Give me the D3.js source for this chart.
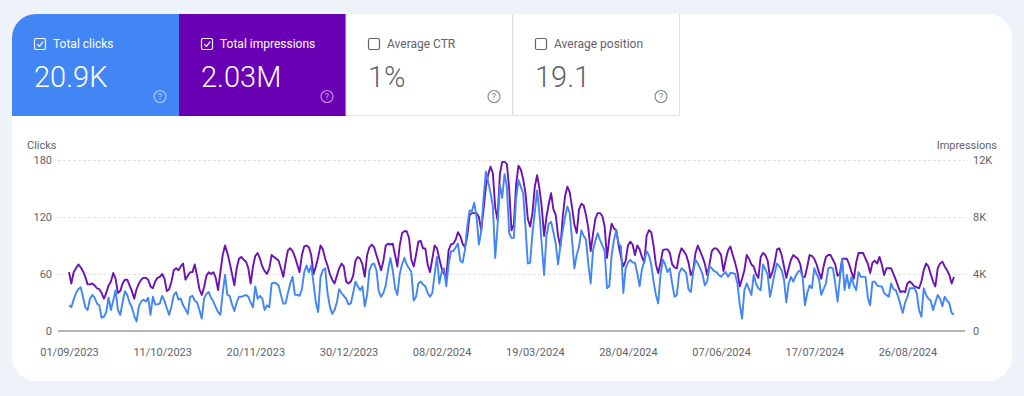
<!DOCTYPE html>
<html>
<head>
<meta charset="utf-8">
<script src="https://d3js.org/d3.v7.min.js"></script>
<style>
  html, body { margin: 0; padding: 0; background: #eef2f9; }
  svg { display: block; font-family: Roboto, "Noto Sans", sans-serif; }
</style>
</head>
<body>
<svg id="chart" width="1024" height="396"></svg>
<script>
// ---- data (one value per day, starting at startDate) ----
const startDate = "01/09/2023";

const clicks = [
  27,25,33,40,44,46,36, 25,22,34,38,35,29,27, 14,15,20,35,22,32,43, 22,17,30,42,38,30,25,
  16,10,26,31,33,31,35, 17,36,28,28,29,37,32, 24,17,26,38,41,33,34, 27,23,18,36,37,32,30,
  22,13,34,39,41,35,31, 25,20,17,40,59,38,37, 28,21,30,36,36,37,38, 36,30,25,47,34,37,34,
  22,27,25,50,51,50,48, 38,29,29,40,50,57,38, 38,37,44,62,69,62,69, 50,30,20,57,64,66,40,
  26,18,22,30,44,40,37, 34,28,29,40,52,47,43, 47,26,38,64,70,71,64, 42,36,40,48,64,77,64,
  45,38,60,70,77,70,66, 62,32,36,50,52,49,47, 40,36,40,60,78,50,62, 66,47,70,84,84,88,92,
  74,72,85,110,127,126,135, 120,91,105,140,168,157,145, 131,77,110,154,140,165,152,
  103,98,98,140,159,152,145, 110,71,72,103,125,148,124, 90,59,100,113,115,104,92,
  70,90,106,120,131,124,96, 66,80,89,106,100,96,70, 50,85,95,103,96,90,84,
  45,47,80,96,106,92,89, 40,66,72,75,72,72,61, 47,65,73,84,80,70,52, 38,29,60,75,70,62,66,
  50,36,38,61,66,64,61, 44,41,62,75,71,66,60, 48,52,68,66,63,62,59, 57,60,62,57,61,61,60,
  50,28,13,43,50,44,38, 59,50,45,43,70,65,59, 36,48,61,71,68,64,54, 30,50,57,52,58,62,64,
  57,27,40,48,45,66,60, 55,38,44,50,66,67,66, 50,31,55,76,43,59,45, 57,48,43,62,57,57,57,
  35,27,52,52,48,47,47, 40,38,36,50,44,43,36, 28,19,30,36,45,45,45, 40,22,15,45,38,34,32,
  22,30,38,34,26,36,32, 29,19,17
];

const impressions = [
  4130,3330,4130,4400,4670,4470,4200, 3800,3270,3270,3330,3200,3000,2930,
  2670,2270,2670,3200,3470,4070,3670, 2670,2800,3330,3600,3600,3200,2800,
  2270,2930,3330,3600,3730,3730,3600, 3130,3000,3470,3730,3800,4000,3670,
  2800,2930,3470,4270,4400,4270,4530, 4730,3600,3870,4130,4130,4670,3870,
  2930,2530,3070,3870,4130,4000,4130, 3730,2870,4130,5330,6000,5470,4800,
  4000,3200,4400,5070,5200,5000,4870, 4400,3330,4530,5270,5470,5070,4530,
  4200,4000,4400,5330,5200,5070,4930, 4400,3800,4800,5670,5800,5600,5200,
  4670,4130,5330,5930,6000,5870,5330, 4000,4530,5200,6000,5730,5070,4600,
  4000,3600,3330,3870,4400,4730,4530, 3470,3330,3470,3870,4930,5200,5070,
  4670,3800,5330,5870,6070,5870,5330, 4800,4270,4930,6000,6130,6070,6130,
  5330,4530,6000,6870,7000,7000,6530, 5000,4530,5330,6270,6330,5800,5800,
  4670,4130,5070,6000,5800,5070,4400, 4000,3800,5670,6070,6130,6400,6930,
  6670,6130,5870,6670,8130,8270,8270, 8270,8000,7070,8530,10130,11000,11530,
  11070,8670,7800,11000,11870,11870,11730, 10000,7070,7470,10330,11600,11330,10670,
  9670,7870,7330,8270,10130,10930,10000, 8670,6670,8000,8930,9670,8530,8130,
  6670,5930,8000,9470,10130,9730,8670, 7470,6870,8530,8930,8800,8130,7200,
  5600,6800,7870,8270,8270,8070,7330, 5130,6530,7530,7200,7070,6000,5200,
  4530,4930,6000,6270,6070,5330,6000, 5730,5200,4800,6670,7070,6930,6000,
  4670,4070,4800,5670,5730,5730,5470, 4670,4470,4400,5330,5800,5600,5330,
  4800,3930,4270,5470,6000,5600,5200, 4730,3930,4670,5600,5800,5800,5600,
  5330,4200,5000,5670,5930,5330,4800, 4130,3130,3670,4270,5330,5070,4670,
  4530,4000,3730,5200,5470,5330,4930, 3730,4130,4800,5730,5800,5330,4530,
  3730,4400,5000,5330,5200,5070,4670, 3800,3800,4530,5330,5270,5070,4670,
  4130,3670,4530,5200,5330,5330,5000, 4670,3870,4000,5070,5070,5070,4670,
  4130,3670,4800,5470,5470,5470,5070, 4730,4070,4800,4930,4730,5200,4670,
  3930,4400,4400,4400,4000,3600,3130, 2730,2800,2730,3330,3470,3330,3130,
  3070,3000,3470,4270,4730,4530,4000, 3470,3130,4400,4730,4870,4530,4270,
  3930,3330,3800
];

const dateTicks = ["01/09/2023","11/10/2023","20/11/2023","30/12/2023","08/02/2024",
                   "19/03/2024","28/04/2024","07/06/2024","17/07/2024","26/08/2024"];
const clickTicks = [0, 60, 120, 180];
const impressionTicks = [0, 4000, 8000, 12000];

const tileLabels = ["Total clicks", "Total impressions", "Average CTR", "Average position"];
const tileValues = ["20.9K", "2.03M", "1%", "19.1"];
const tileChecked = [true, true, false, false];

// ---- layout ----
const BLUE = "#4285f4";
const PURPLE_TILE = "#6a00b4";
const PURPLE_LINE = "#6c12b5";
const GREY = "#5f6368";

const svg = d3.select("#chart");
const parse = d3.utcParse("%d/%m/%Y");
const fmt = d3.utcFormat("%d/%m/%Y");

svg.append("rect").attr("width", 1024).attr("height", 396).attr("fill", "#eef2f9");

// card
svg.append("defs").append("clipPath").attr("id", "card-clip")
  .append("rect").attr("x", 12).attr("y", 14).attr("width", 1000).attr("height", 367).attr("rx", 24);
svg.append("rect")
  .attr("x", 12).attr("y", 14).attr("width", 1000).attr("height", 367).attr("rx", 24)
  .attr("fill", "#fff");

// metric tiles
const tileW = 167, tileH = 102;
const tiles = svg.append("g").attr("clip-path", "url(#card-clip)")
  .selectAll("g").data(tileLabels).join("g")
  .attr("transform", (d, i) => `translate(${12 + i * tileW},14)`);

tiles.append("rect")
  .attr("width", tileW).attr("height", tileH)
  .attr("fill", (d, i) => i === 0 ? BLUE : i === 1 ? PURPLE_TILE : "#fff");

// borders for the white tiles
tiles.filter((d, i) => i > 1).append("path")
  .attr("d", `M0,0V${tileH - 0.5}H${tileW - 0.5}V0`)
  .attr("fill", "none").attr("stroke", "#e0e0e0");

tiles.each(function(d, i) {
  const g = d3.select(this);
  const fg = i < 2 ? "#fff" : GREY;
  // checkbox
  g.append("rect")
    .attr("x", 22.5).attr("y", 24.5).attr("width", 11).attr("height", 11).attr("rx", 1.5)
    .attr("fill", "none").attr("stroke", fg).attr("stroke-width", 1.2);
  if (tileChecked[i]) {
    g.append("path")
      .attr("d", "M25.2,30.2 L27.4,32.4 L31.2,27.6")
      .attr("fill", "none").attr("stroke", fg).attr("stroke-width", 1.2);
  }
  g.append("text")
    .attr("x", 41).attr("y", 34)
    .attr("font-size", 12).attr("fill", fg)
    .text(tileLabels[i]);
  g.append("text")
    .attr("x", 22).attr("y", 72.5)
    .attr("font-size", 29).attr("font-weight", 300).attr("fill", fg)
    .text(tileValues[i]);
  // help icon
  const hc = i < 2 ? "rgba(255,255,255,0.6)" : "#80868b";
  g.append("circle")
    .attr("cx", tileW - 19).attr("cy", 82.5).attr("r", 6)
    .attr("fill", "none").attr("stroke", hc).attr("stroke-width", 1.1);
  g.append("text")
    .attr("x", tileW - 19).attr("y", 85.7)
    .attr("text-anchor", "middle").attr("font-size", 9).attr("fill", hc)
    .text("?");
});

// ---- chart ----
const start = parse(startDate);
const dates = clicks.map((d, i) => d3.utcDay.offset(start, i));

const plotLeft = 58, plotRight = 965, plotTop = 160, plotBottom = 331;

const x = d3.scaleUtc()
  .domain([start, dates[dates.length - 1]])
  .range([69, 954]);
const yClicks = d3.scaleLinear().domain([0, 180]).range([plotBottom, plotTop]);
const yImpr = d3.scaleLinear().domain([0, 12000]).range([plotBottom, plotTop]);

// gridlines
svg.append("g")
  .attr("transform", `translate(${plotLeft},0)`)
  .call(d3.axisRight(yClicks).tickValues(clickTicks.slice(1)).tickSize(plotRight - plotLeft).tickFormat(""))
  .call(g => g.select(".domain").remove())
  .call(g => g.selectAll("line").attr("stroke", "#e2e2e2").attr("stroke-dasharray", "3,2"));

svg.append("line")
  .attr("x1", plotLeft).attr("x2", plotRight)
  .attr("y1", plotBottom).attr("y2", plotBottom)
  .attr("stroke", "#9e9e9e").attr("stroke-width", 1.5);

// left axis
svg.append("g")
  .attr("transform", `translate(${plotLeft},0)`)
  .call(d3.axisLeft(yClicks).tickValues(clickTicks).tickSize(0).tickPadding(6))
  .call(g => g.select(".domain").remove())
  .call(g => g.selectAll("text").attr("font-size", 11).attr("fill", GREY).attr("font-family", "Roboto"));

// right axis
svg.append("g")
  .attr("transform", `translate(${plotRight},0)`)
  .call(d3.axisRight(yImpr).tickValues(impressionTicks).tickSize(0).tickPadding(8)
    .tickFormat(d => d === 0 ? "0" : d / 1000 + "K"))
  .call(g => g.select(".domain").remove())
  .call(g => g.selectAll("text").attr("font-size", 11).attr("fill", GREY).attr("font-family", "Roboto"));

// bottom axis
svg.append("g")
  .attr("transform", `translate(0,${plotBottom})`)
  .call(d3.axisBottom(x).tickValues(dateTicks.map(parse)).tickSize(0).tickPadding(17).tickFormat(fmt))
  .call(g => g.select(".domain").remove())
  .call(g => g.selectAll("text").attr("font-size", 11).attr("fill", GREY).attr("font-family", "Roboto"));

// axis titles
svg.append("text").attr("x", 27).attr("y", 149)
  .attr("font-size", 11).attr("fill", GREY).text("Clicks");
svg.append("text").attr("x", 997).attr("y", 149).attr("text-anchor", "end")
  .attr("font-size", 11).attr("fill", GREY).text("Impressions");

// lines
const imprLine = d3.line().x((d, i) => x(dates[i])).y(d => yImpr(d));
const clickLine = d3.line().x((d, i) => x(dates[i])).y(d => yClicks(d));

svg.append("path").datum(impressions)
  .attr("d", imprLine)
  .attr("fill", "none").attr("stroke", PURPLE_LINE).attr("stroke-width", 1.9)
  .attr("stroke-linejoin", "round");

svg.append("path").datum(clicks)
  .attr("d", clickLine)
  .attr("fill", "none").attr("stroke", BLUE).attr("stroke-width", 1.9)
  .attr("stroke-linejoin", "round");
</script>
</body>
</html>
